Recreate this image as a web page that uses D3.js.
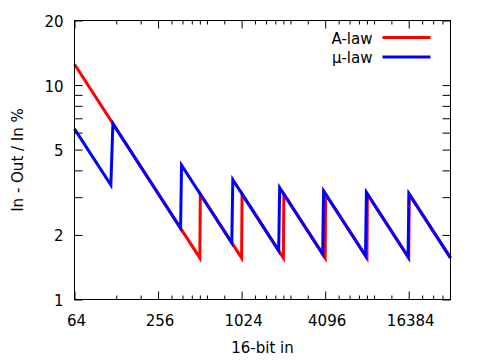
<!DOCTYPE html>
<html><head><meta charset="utf-8">
<script src="https://cdn.jsdelivr.net/npm/d3@7"></script>
<style>body{margin:0;background:#fff}svg{display:block}text{font-family:"DejaVu Sans",sans-serif;font-size:15px;fill:#000}</style>
</head><body><div id="chart"></div>
<script>
// A-law vertices (16-bit input, error %)
const aLawX = [64, 512, 516, 1024, 1032, 2048, 2064, 4096, 4128, 8192, 8256, 16384, 16512, 32768];
const aLawY = [12.5, 1.5625, 3.10, 1.5625, 3.10, 1.5625, 3.10, 1.5625, 3.10, 1.5625, 3.10, 1.5625, 3.10, 1.5625];
// mu-law vertices
const muLawX = [64, 117, 121, 372, 378, 870, 885, 1895, 1925, 3930, 3990, 8000, 8120, 16200, 16450, 32768];
const muLawY = [6.25, 3.42, 6.61, 2.15, 4.233, 1.839, 3.616, 1.689, 3.325, 1.628, 3.208, 1.6, 3.153, 1.58, 3.112, 1.5625];

const xMajor = [64, 256, 1024, 4096, 16384];
const xMinor = [128, 192, 320, 384, 448, 512, 576, 768, 1280, 1536, 1792, 2048, 2304, 3072, 5120, 6144, 7168, 8192, 9216, 12288, 20480, 24576, 28672];
const yMajor = [1, 2, 5, 10, 20];
const yMinor = [3, 4, 6, 7, 8, 9];
const seriesNames = ["A-law", "μ-law"];
const seriesColors = ["#ff0000", "#0000ff"];

const W = 480, H = 360;
const L = 74.5, R = 450.5, T = 20.5, B = 299.5;
const svg = d3.select("#chart").append("svg").attr("width", W).attr("height", H);

const x = d3.scaleLog().base(2).domain([64, 32768]).range([L, R]);
const y = d3.scaleLog().domain([1, 20]).range([B, T]);

// data lines
const line = d3.line().x(d => x(d[0])).y(d => y(d[1]));
const series = [d3.zip(aLawX, aLawY), d3.zip(muLawX, muLawY)];
svg.append("g").selectAll("path").data(series).join("path")
  .attr("d", line).attr("fill", "none")
  .attr("stroke", (d, i) => seriesColors[i]).attr("stroke-width", 3)
  .attr("stroke-linejoin", "miter");

// axes with ticks
const axB = d3.axisBottom(x).tickValues(xMajor).tickSize(-8).tickFormat("");
const axBm = d3.axisBottom(x).tickValues(xMinor).tickSize(-4).tickFormat("");
const axT = d3.axisTop(x).tickValues(xMajor).tickSize(-8).tickFormat("");
const axTm = d3.axisTop(x).tickValues(xMinor).tickSize(-4).tickFormat("");
const axL = d3.axisLeft(y).tickValues(yMajor.concat(yMinor)).tickSize(-8).tickFormat("");
const axR = d3.axisRight(y).tickValues(yMajor.concat(yMinor)).tickSize(-8).tickFormat("");
[[axB, `translate(0,${B})`], [axBm, `translate(0,${B})`], [axT, `translate(0,${T})`], [axTm, `translate(0,${T})`],
 [axL, `translate(${L},0)`], [axR, `translate(${R},0)`]].forEach(([a, t]) => {
  const g = svg.append("g").attr("transform", t).call(a);
  g.select(".domain").remove();
  g.selectAll("line").attr("stroke", "#000").attr("stroke-width", 1);
});
// frame
svg.append("rect").attr("x", L).attr("y", T).attr("width", R - L).attr("height", B - T)
  .attr("fill", "none").attr("stroke", "#000").attr("stroke-width", 1);

// tick labels
svg.append("g").selectAll("text").data(xMajor).join("text")
  .attr("x", d => x(d) + 2).attr("y", 326).attr("text-anchor", "middle").text(d => d);
svg.append("g").selectAll("text").data(yMajor).join("text")
  .attr("x", 63.5).attr("y", d => y(d) + 6.5).attr("text-anchor", "end").text(d => d);

// axis titles
svg.append("text").attr("x", (L + R) / 2).attr("y", 353).attr("text-anchor", "middle").text("16-bit in");
svg.append("text").attr("transform", `translate(22.5,${(T + B) / 2}) rotate(-90)`)
  .attr("text-anchor", "middle").text("In - Out / In %");

// legend
const lg = svg.append("g");
seriesNames.forEach((n, i) => {
  const yy = 37.5 + i * 19.4;
  lg.append("text").attr("x", 372.5).attr("y", yy + 6.5).attr("text-anchor", "end").text(n);
  lg.append("line").attr("x1", 382.5).attr("x2", 430.5).attr("y1", yy).attr("y2", yy)
    .attr("stroke", seriesColors[i]).attr("stroke-width", 3);
});
</script></body></html>
